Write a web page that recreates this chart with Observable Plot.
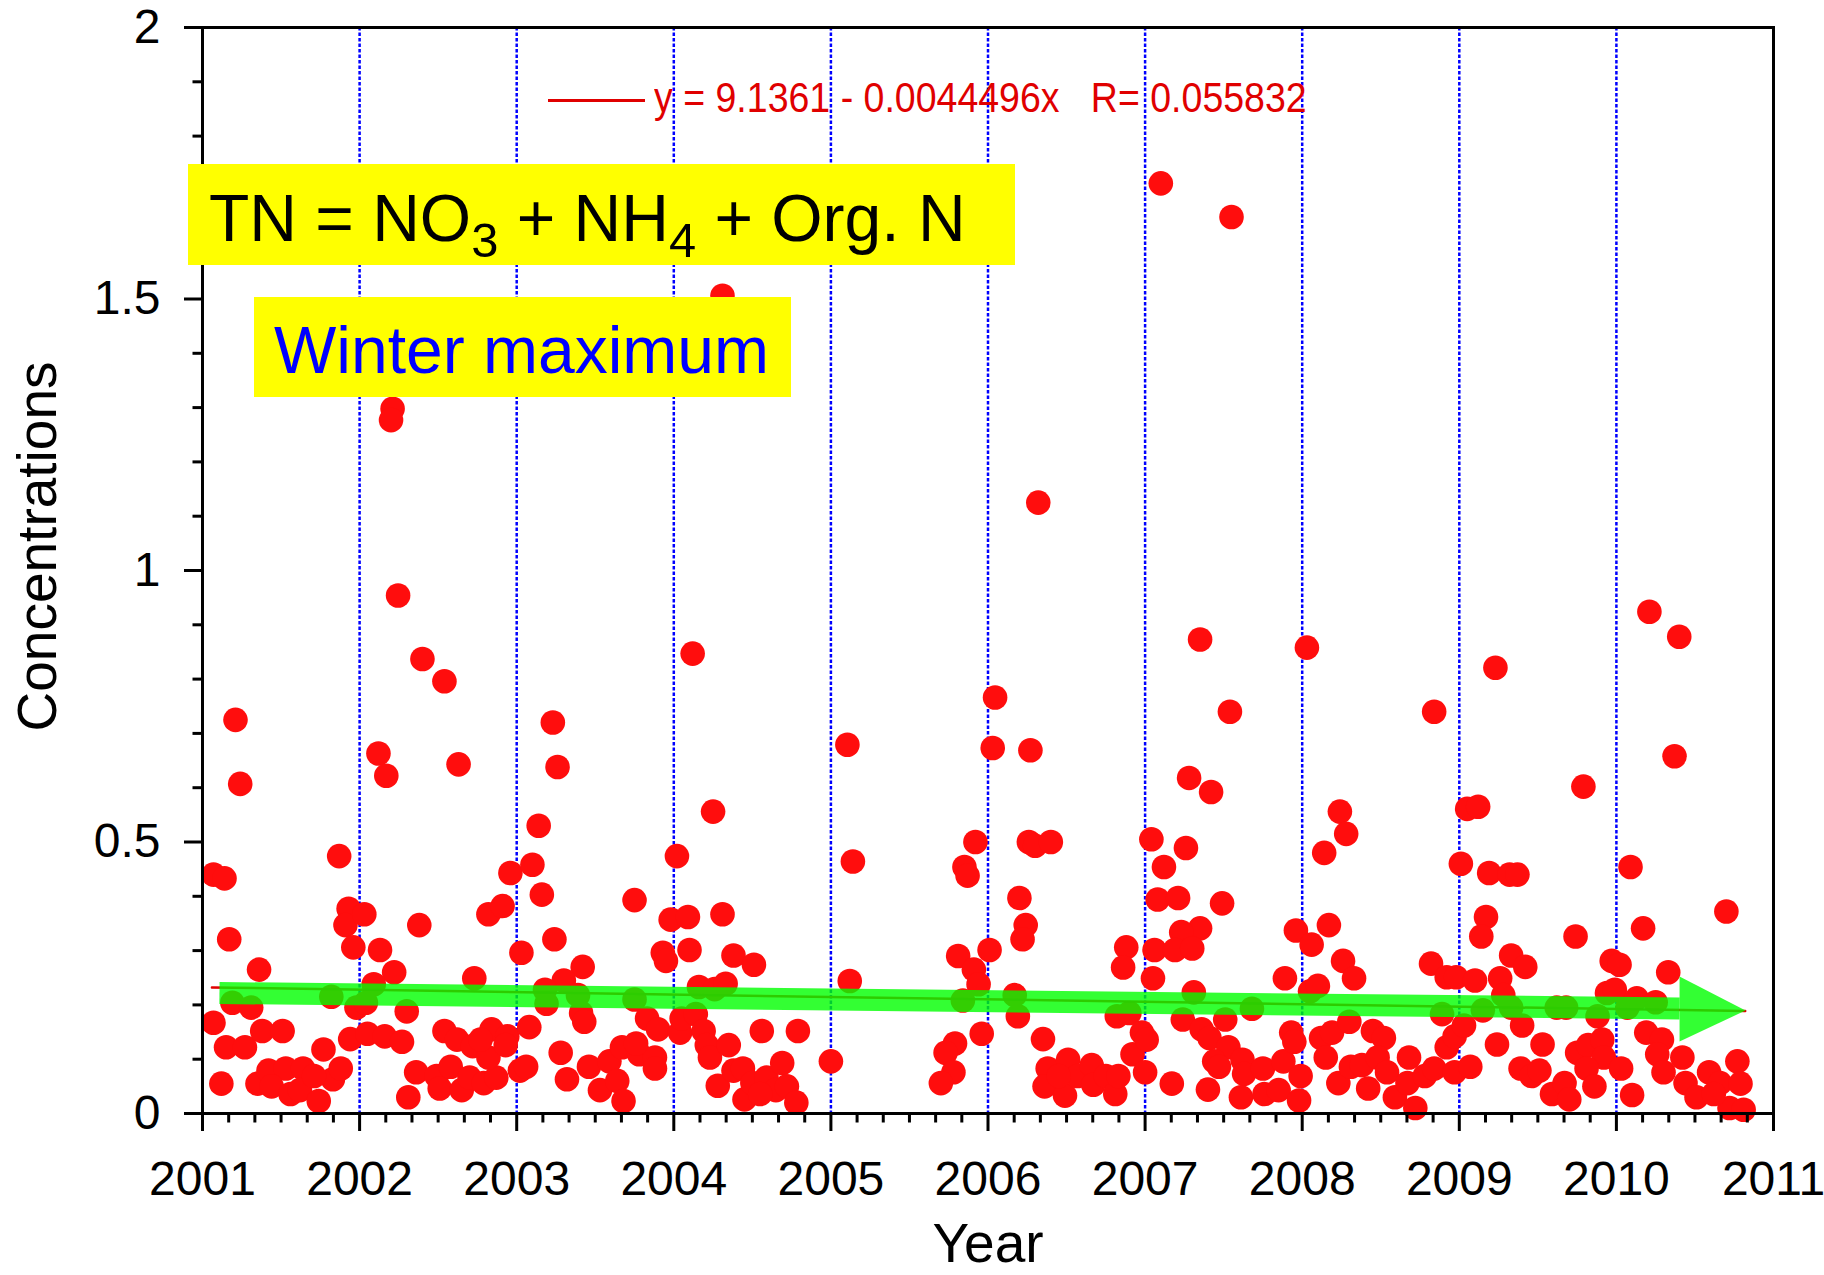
<!DOCTYPE html>
<html>
<head>
<meta charset="utf-8">
<title>TN concentrations 2001–2010</title>
<script src="https://cdn.jsdelivr.net/npm/d3@7"></script>
<script src="https://cdn.jsdelivr.net/npm/@observablehq/plot@0.6"></script>
<style>
  body { margin: 0; background: #fff; }
  #chart { position: relative; width: 1824px; height: 1275px; font-family: "Liberation Sans", Arial, Helvetica, sans-serif; }
  #chart svg { position: absolute; left: 0; top: 0; }
  .box { position: absolute; background: #ffff00; white-space: nowrap; box-sizing: border-box; line-height: 1; }
  .box sub { font-size: 0.74em; vertical-align: -16px; line-height: 1; }
  #formula { left: 188px; top: 164px; width: 827px; height: 101px; padding: 21px 0 0 21px; font-size: 66px; color: #000; }
  #season { left: 254px; top: 297px; width: 537px; height: 100px; padding: 20px 0 0 20px; font-size: 66px; color: #0000ff; }
  #legend-line { position: absolute; left: 548px; top: 99px; width: 97px; height: 2.5px; background: #e00000; }
  #legend-text { position: absolute; left: 654px; top: 77px; font-size: 42px; line-height: 1; color: #e00000; white-space: pre; transform: scaleX(0.893); transform-origin: left top; }
</style>
</head>
<body>
<div id="chart">
  <div id="legend-line"></div>
  <div id="legend-text"></div>
  <div class="box" id="formula">TN = NO<sub>3</sub> + NH<sub>4</sub> + Org. N</div>
  <div class="box" id="season">Winter maximum</div>
</div>
<script>
// Monthly-ish TN samples: decimal year and concentration
const years = [
  2002.21, 2002.20, 2004.31, 2006.32, 2007.10, 2007.55,
  // 2001 – 2002
  2002.245, 2002.40, 2002.54, 2001.21, 2001.24, 2002.12, 2002.17, 2002.63, 2001.87, 2001.07,
  2001.14, 2001.17, 2001.36, 2001.93, 2001.91, 2002.03, 2001.96, 2002.38, 2002.13, 2002.82,
  2002.91, 2002.96, 2003.03, 2002.73, 2002.22, 2002.09, 2001.19, 2001.31, 2001.82, 2001.98,
  2002.04, 2002.30, 2001.07, 2001.15, 2001.27, 2001.38, 2001.51, 2001.12, 2001.77, 2001.94,
  2002.05, 2002.16, 2002.27, 2002.54, 2002.62, 2002.72, 2002.84, 2002.94,
  2001.35, 2001.42, 2001.53, 2001.44, 2001.56, 2001.64, 2001.62, 2001.74, 2001.83, 2001.88, 2001.71,
  2002.31, 2002.36, 2002.49, 2002.51, 2002.58, 2002.65, 2002.70, 2002.79, 2002.87, 2002.82,
  2002.93, 2003.02, 2002.77,
  // 2003 – 2004
  2004.12, 2003.23, 2003.26, 2003.14, 2004.25, 2004.02, 2003.10, 2003.16, 2003.75, 2003.24,
  2003.42, 2003.30, 2003.18, 2003.19, 2003.39, 2003.98, 2004.09, 2004.31, 2003.93, 2003.95,
  2004.10, 2004.38, 2004.51, 2004.16, 2004.26, 2004.33, 2003.75, 2003.41, 2003.43, 2003.08,
  2003.83, 2003.90, 2004.04, 2004.05, 2004.14, 2004.19, 2004.21, 2004.23, 2004.35, 2004.56,
  2004.79, 2005.00, 2003.06, 2003.28, 2003.32, 2003.46, 2003.53, 2003.59, 2003.64, 2003.68,
  2003.67, 2003.78, 2003.88, 2003.88, 2003.76, 2004.28, 2004.38, 2004.44, 2004.45, 2004.50,
  2004.59, 2004.69, 2004.65, 2004.72, 2004.78, 2004.55,
  // 2005 – 2006
  2006.045, 2005.105, 2006.03, 2006.27, 2005.14, 2005.92, 2005.85, 2005.87, 2006.26, 2006.30,
  2006.40, 2006.20, 2006.24, 2006.22, 2005.81, 2006.01, 2005.91, 2005.94, 2005.12, 2005.84,
  2006.17, 2006.19, 2006.88, 2006.86, 2005.96, 2006.35, 2005.79, 2005.73, 2005.78, 2005.70,
  2006.38, 2006.36, 2006.51, 2006.49, 2006.57, 2006.66, 2006.67, 2006.75, 2006.81, 2006.83,
  2006.82, 2006.90, 2006.92, 2006.98, 2007.00, 2006.45,
  // 2007 – 2008
  2007.35, 2008.03, 2007.54, 2008.84, 2007.28, 2007.42, 2008.24, 2008.28, 2007.04, 2007.26,
  2007.12, 2008.14, 2007.08, 2007.21, 2007.49, 2007.35, 2007.23, 2007.06, 2007.19, 2007.30,
  2007.96, 2008.06, 2008.17, 2008.26, 2008.33, 2008.82, 2008.92, 2008.98, 2007.05, 2007.89,
  2007.31, 2008.05, 2008.10, 2007.68, 2008.89, 2007.24, 2007.51, 2007.01, 2007.17, 2007.36,
  2007.41, 2007.53, 2007.44, 2007.47, 2007.40, 2007.62, 2007.63, 2007.61, 2007.75, 2007.76,
  2007.85, 2007.88, 2007.93, 2007.95, 2007.99, 2007.98, 2008.12, 2008.15, 2008.19, 2008.30,
  2008.23, 2008.31, 2008.38, 2008.42, 2008.45, 2008.52, 2008.48, 2008.54, 2008.59, 2008.68,
  2008.67, 2008.72, 2008.78, 2008.84, 2008.92, 2008.97, 2008.97,
  // 2009 – 2010
  2010.21, 2010.40, 2009.23, 2010.37, 2009.79, 2009.05, 2009.12, 2009.01, 2009.19, 2009.32,
  2009.37, 2010.09, 2010.70, 2009.17, 2009.14, 2009.74, 2010.17, 2009.33, 2009.42, 2009.97,
  2010.02, 2010.33, 2009.10, 2009.26, 2009.28, 2009.33, 2009.62, 2009.68, 2009.15, 2009.03,
  2009.40, 2009.88, 2009.94, 2009.99, 2010.07, 2010.13, 2010.25, 2010.19, 2010.29, 2010.26,
  2010.30, 2010.42, 2009.24, 2009.53, 2009.75, 2009.82, 2009.91, 2009.92, 2010.03, 2009.07,
  2009.39, 2009.46, 2009.51, 2009.59, 2009.67, 2009.70, 2009.81, 2009.86, 2010.10, 2010.44,
  2010.51, 2010.59, 2010.66, 2010.77, 2010.79, 2010.72, 2010.81, 2010.62
];
const values = [
  1.298, 1.277, 1.506, 1.125, 1.713, 1.651,
  // 2001 – 2002
  0.954, 0.837, 0.796, 0.725, 0.607, 0.663, 0.622, 0.643, 0.474, 0.440,
  0.433, 0.321, 0.265, 0.377, 0.347, 0.367, 0.306, 0.347, 0.301, 0.367,
  0.382, 0.443, 0.296, 0.249, 0.260, 0.238, 0.204, 0.195, 0.215, 0.195,
  0.204, 0.188, 0.167, 0.122, 0.122, 0.152, 0.152, 0.055, 0.118, 0.137,
  0.147, 0.142, 0.132, 0.152, 0.136, 0.124, 0.155, 0.142,
  0.055, 0.079, 0.083, 0.050, 0.036, 0.083, 0.043, 0.023, 0.063, 0.083, 0.069,
  0.030, 0.076, 0.069, 0.046, 0.086, 0.043, 0.066, 0.056, 0.066, 0.103,
  0.126, 0.079, 0.136,
  // 2003 – 2004
  0.847, 0.720, 0.638, 0.530, 0.556, 0.474, 0.458, 0.403, 0.393, 0.321,
  0.270, 0.245, 0.228, 0.202, 0.218, 0.357, 0.362, 0.367, 0.296, 0.281,
  0.301, 0.291, 0.274, 0.233, 0.229, 0.239, 0.210, 0.185, 0.169, 0.159,
  0.175, 0.155, 0.149, 0.175, 0.183, 0.152, 0.126, 0.103, 0.126, 0.152,
  0.152, 0.096, 0.086, 0.112, 0.063, 0.086, 0.043, 0.096, 0.060, 0.023,
  0.122, 0.109, 0.103, 0.083, 0.129, 0.051, 0.079, 0.083, 0.026, 0.056,
  0.066, 0.093, 0.043, 0.050, 0.020, 0.036,
  // 2005 – 2006
  0.766, 0.679, 0.673, 0.669, 0.464, 0.500, 0.454, 0.438, 0.500, 0.493,
  0.500, 0.397, 0.347, 0.321, 0.290, 0.301, 0.265, 0.238, 0.244, 0.208,
  0.218, 0.179, 0.306, 0.269, 0.147, 0.137, 0.129, 0.112, 0.076, 0.056,
  0.083, 0.050, 0.099, 0.033, 0.069, 0.089, 0.053, 0.069, 0.036, 0.069,
  0.179, 0.185, 0.109, 0.149, 0.076, 0.069,
  // 2007 – 2008
  0.873, 0.858, 0.740, 0.740, 0.618, 0.592, 0.556, 0.515, 0.505, 0.489,
  0.454, 0.480, 0.394, 0.397, 0.387, 0.341, 0.334, 0.301, 0.301, 0.304,
  0.337, 0.311, 0.347, 0.281, 0.249, 0.276, 0.251, 0.251, 0.249, 0.249,
  0.223, 0.225, 0.235, 0.193, 0.183, 0.173, 0.173, 0.136, 0.055, 0.155,
  0.139, 0.122, 0.096, 0.086, 0.044, 0.099, 0.073, 0.030, 0.083, 0.036,
  0.043, 0.096, 0.149, 0.132, 0.069, 0.024, 0.139, 0.103, 0.149, 0.169,
  0.056, 0.086, 0.089, 0.046, 0.152, 0.139, 0.103, 0.076, 0.030, 0.103,
  0.056, 0.010, 0.069, 0.083, 0.122, 0.142, 0.076,
  // 2009 – 2010
  0.924, 0.878, 0.821, 0.658, 0.602, 0.561, 0.565, 0.460, 0.443, 0.440,
  0.440, 0.454, 0.372, 0.362, 0.326, 0.326, 0.341, 0.291, 0.270, 0.281,
  0.274, 0.260, 0.245, 0.249, 0.218, 0.195, 0.195, 0.195, 0.190, 0.162,
  0.162, 0.179, 0.222, 0.228, 0.195, 0.212, 0.205, 0.149, 0.136, 0.109,
  0.076, 0.103, 0.127, 0.127, 0.112, 0.126, 0.136, 0.103, 0.083, 0.086,
  0.083, 0.069, 0.079, 0.036, 0.056, 0.026, 0.083, 0.050, 0.034, 0.056,
  0.030, 0.076, 0.056, 0.096, 0.055, 0.010, 0.007, 0.036
];

// Axis ticks and labels
const xTicks = [2001, 2002, 2003, 2004, 2005, 2006, 2007, 2008, 2009, 2010, 2011];
const xTickLabels = ["2001", "2002", "2003", "2004", "2005", "2006", "2007", "2008", "2009", "2010", "2011"];
const yTicks = [0, 0.5, 1, 1.5, 2];
const yTickLabels = ["0", "0.5", "1", "1.5", "2"];
const gridYears = [2002, 2003, 2004, 2005, 2006, 2007, 2008, 2009, 2010];

// Linear fit shown in the legend
const trendIntercept = 9.1361;
const trendSlope = -0.0044496;
const trendR = 0.055832;
const trendYears = [2001.06, 2010.82];

// Trend arrow: shaft from start to head base, then tip
const arrowYears = [2001.108, 2010.402];
const arrowValues = [0.2219, 0.1934];
const arrowTipYears = [2010.822];
const arrowTipValues = [0.1897];

const points = years.map((x, i) => ({x, y: values[i]}));
const trend = trendYears.map(x => ({x, y: trendIntercept + trendSlope * x}));
const shaft = arrowYears.map((x, i) => ({x, y: arrowValues[i]}));
const tip = arrowTipYears.map((x, i) => ({x, y: arrowTipValues[i]}));

// Triangular arrow head with its point at the anchor
const arrowHead = {
  draw(context) {
    context.moveTo(0, 0);
    context.lineTo(-66, -34);
    context.lineTo(-66, 31);
    context.closePath();
  }
};

const xMinor = d3.range(0, 61).map(k => 2001 + k / 6).filter((d, k) => k % 6 !== 0);
const yMinor = d3.range(0, 21).map(k => k / 10).filter((d, k) => k % 5 !== 0);

const plot = Plot.plot({
  width: 1824,
  height: 1275,
  marginLeft: 202,
  marginRight: 51,
  marginTop: 27,
  marginBottom: 162,
  style: {fontFamily: "'Liberation Sans', Arial, Helvetica, sans-serif", background: "transparent", overflow: "visible"},
  x: {domain: [2001, 2011]},
  y: {domain: [0, 2]},
  marks: [
    Plot.ruleX(gridYears, {stroke: "#0000ff", strokeWidth: 2.5, strokeDasharray: "3.5 2"}),
    Plot.dot(points, {x: "x", y: "y", r: 12.3, fill: "#ff0d0d", stroke: null}),
    Plot.line(trend, {x: "x", y: "y", stroke: "#e00000", strokeWidth: 2.5}),
    Plot.line(shaft, {x: "x", y: "y", stroke: "#00ff00", strokeOpacity: 0.8, strokeWidth: 22, strokeLinecap: "butt"}),
    Plot.dot(tip, {x: "x", y: "y", symbol: arrowHead, fill: "#00ff00", fillOpacity: 0.8, stroke: null}),
    Plot.frame({stroke: "#000", strokeWidth: 3}),
    Plot.axisY({ticks: yTicks, tickSize: 18, tickPadding: 24, tickFormat: d => yTickLabels[yTicks.indexOf(d)], fontSize: 48, strokeWidth: 3, label: null}),
    Plot.axisY({ticks: yMinor, tickSize: 9.5, tickFormat: () => "", strokeWidth: 3, label: null}),
    Plot.axisX({ticks: xTicks, tickSize: 18, tickPadding: 29, tickFormat: d => xTickLabels[xTicks.indexOf(d)], fontSize: 48, strokeWidth: 3, label: null}),
    Plot.axisX({ticks: xMinor, tickSize: 9.5, tickFormat: () => "", strokeWidth: 3, label: null}),
    Plot.text(["Year"], {text: d => d, frameAnchor: "bottom", lineAnchor: "middle", dy: 131, fontSize: 55, fill: "#000"}),
    Plot.text(["Concentrations"], {text: d => d, frameAnchor: "left", textAnchor: "middle", lineAnchor: "middle", rotate: -90, dx: -164, dy: -24, fontSize: 55, fill: "#000"})
  ]
});

const chart = document.getElementById("chart");
chart.insertBefore(plot, chart.firstChild);
document.getElementById("legend-text").textContent =
  `y = ${trendIntercept} - ${Math.abs(trendSlope)}x   R= ${trendR}`;
</script>
</body>
</html>
